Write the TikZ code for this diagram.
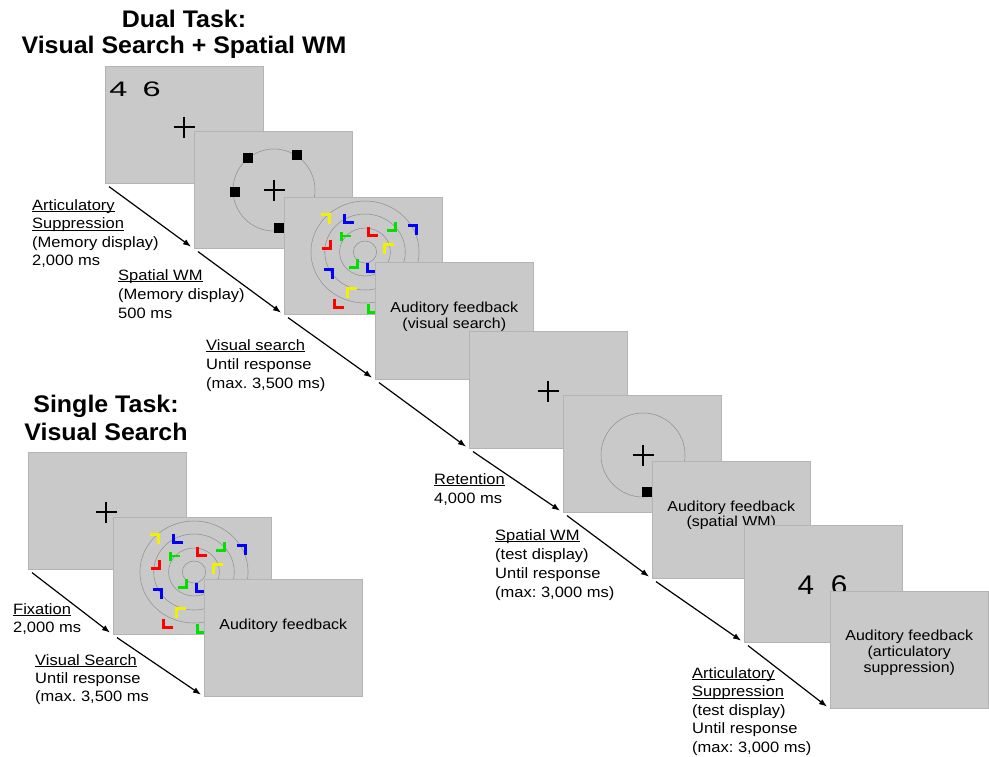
\documentclass[tikz,border=0pt]{standalone}
\usepackage{fontspec}
\setmainfont{Liberation Sans}
\usetikzlibrary{arrows.meta,positioning}
\frenchspacing

\definecolor{panelgray}{RGB}{201,201,201}
\definecolor{paneledge}{RGB}{180,180,180}
\definecolor{ringgray}{RGB}{145,145,145}
\definecolor{vsred}{RGB}{255,0,0}
\definecolor{vsgreen}{RGB}{0,225,0}
\definecolor{vsblue}{RGB}{0,0,255}
\definecolor{vsyellow}{RGB}{240,240,0}

\newcommand{\ul}[1]{\setbox0\hbox{#1}\rlap{\rule[-2.2pt]{\wd0}{0.9pt}}\box0}
% corner marks, centre (#2,#3)
\newcommand{\cBL}[3]{\draw[#1,vsmark] (#2,#3) ++(-4.5,-4.5) -- ++(0,9) -- ++(9,0);}
\newcommand{\cBR}[3]{\draw[#1,vsmark] (#2,#3) ++(4.5,-4.5) -- ++(0,9) -- ++(-9,0);}
\newcommand{\cTR}[3]{\draw[#1,vsmark] (#2,#3) ++(-4.5,-4.5) -- ++(9,0) -- ++(0,9);}
\newcommand{\cTL}[3]{\draw[#1,vsmark] (#2,#3) ++(4.5,-4.5) -- ++(-9,0) -- ++(0,9);}
\newcommand{\cT}[3]{\draw[#1,vsmark] (#2,#3) ++(-4.5,-4.5) -- ++(0,9) ++(0,-4.5) -- ++(9,0);}
\newcommand{\fixcross}[2]{\draw[crossline] (#1-10.5,#2) -- (#1+10.5,#2) (#1,#2-10.5) -- (#1,#2+10.5);}
\newcommand{\sqmark}[2]{\fill (#1-5,#2-5) rectangle ++(10,10);}
% search display, panel coordinates
\newcommand{\searchdisplay}{%
  \foreach \r in {11,24,38,51} \draw[ring] (81,55) ellipse ({1.06*\r} and \r);
  \cTR{vsyellow}{41}{22}
  \cBL{vsblue}{65}{21}
  \cBL{vsred}{89}{34}
  \cBR{vsgreen}{107}{29}
  \cTR{vsblue}{128}{33}
  \cT{vsgreen}{62}{39}
  \cBR{vsred}{42}{47}
  \cTL{vsyellow}{105}{52}
  \cBR{vsgreen}{69}{66}
  \cBL{vsblue}{88}{70}
  \cTR{vsblue}{44}{77}
  \cTL{vsyellow}{68}{96}
  \cBL{vsred}{55}{106}
  \cBL{vsgreen}{89}{111}
}

\begin{document}
\begin{tikzpicture}[x=1pt,y=-1pt,
  screen/.style={draw=paneledge, fill=panelgray, line width=0.6pt, minimum width=158pt, minimum height=117pt, inner sep=0pt, anchor=north west},
  ring/.style={draw=ringgray, line width=0.55pt},
  vsmark/.style={line width=2.6pt},
  crossline/.style={line width=2.9pt},
  lbl/.style={anchor=north west, align=left, inner sep=0pt, xscale=1.1, font=\fontsize{15}{18.5}\selectfont},
  fbtext/.style={align=center, inner sep=0pt, xscale=1.1, font=\fontsize{14.5}{15.8}\selectfont},
  tasktitle/.style={anchor=north, align=center, inner sep=0pt, xscale=1.04, font=\bfseries\fontsize{24}{26}\selectfont},
  arr/.style={-{Latex[length=8pt,width=6pt]}, line width=1.2pt}]
\useasboundingbox (0,0) rectangle (989,756);

% titles
\node[tasktitle] (dualtitle) at (184,10) {Dual Task:\\Visual Search + Spatial WM};
\node[tasktitle, font=\bfseries\fontsize{24}{28}\selectfont] (singletitle) at (106,395) {Single Task:\\Visual Search};

% dual task screens
\node[screen] (p1) at (105,66) {};
\node[inner sep=0pt, anchor=north west, xscale=1.55, font=\fontsize{21}{21}\selectfont] (digA) at (109,82) {4 \hspace{4pt}6};
\begin{scope}[shift={(p1.north west)}]
  \fixcross{79}{61}
\end{scope}

\node[screen] (p2) at (194,131) {};
\begin{scope}[shift={(p2.north west)}]
  \draw[ring] (80,59) circle (41);
  \fixcross{80}{59}
  \sqmark{54}{27} \sqmark{103}{24} \sqmark{41}{61} \sqmark{85}{97}
\end{scope}

\node[screen] (p3) at (284,197) {};
\begin{scope}[shift={(p3.north west)}]
  \searchdisplay
\end{scope}

\node[screen] (p4) at (375,262) {};
\node[fbtext] (fbA) at ([yshift=4pt]p4.center) {Auditory feedback\\(visual search)};

\node[screen] (p5) at (469,331) {};
\begin{scope}[shift={(p5.north west)}]
  \fixcross{79}{60}
\end{scope}

\node[screen] (p6) at (563,395) {};
\begin{scope}[shift={(p6.north west)}]
  \draw[ring] (80,60) circle (42);
  \fixcross{80}{60}
  \sqmark{83.5}{97}
\end{scope}

\node[screen] (p7) at (652,461) {};
\node[fbtext] (fbB) at ([yshift=4.5pt]p7.center) {Auditory feedback\\(spatial WM)};

\node[screen] (p8) at (744,525) {};
\node[inner sep=0pt, anchor=base west, xscale=1.1, font=\fontsize{27}{27}\selectfont] (digB) at (797.5,594) {4 \hspace{7.7pt}6};

\node[screen] (p9) at (830,591) {};
\node[fbtext] (fbC) at ([yshift=-3pt]p9.center) {Auditory feedback\\(articulatory\\suppression)};

% single task screens
\node[screen] (s1) at (28,452) {};
\begin{scope}[shift={(s1.north west)}]
  \fixcross{78}{60}
\end{scope}

\node[screen] (s2) at (113,517) {};
\begin{scope}[shift={(s2.north west)}]
  \searchdisplay
\end{scope}

\node[screen] (s3) at (204,579) {};
\node[fbtext] (fbD) at ([yshift=12pt]s3.center) {Auditory feedback};

% arrows
\foreach \a/\b in {p1/p2,p2/p3,p3/p4,p4/p5,p5/p6,p6/p7,p7/p8,p8/p9,s1/s2,s2/s3}
  \draw[arr] ([shift={(4,3)}]\a.south west) -- ([shift={(-3,-2)}]\b.south west);

% timing labels
\node[lbl] (artmem) at (32,199) {\ul{Articulatory}\\\ul{Suppression}\\(Memory display)\\2,000 ms};
\node[lbl, font=\fontsize{15}{19}\selectfont] (spmem) at (118,269) {\ul{Spatial WM}\\(Memory display)\\500 ms};
\node[lbl, font=\fontsize{15}{19}\selectfont] (vsdual) at (206,339) {\ul{Visual search}\\Until response\\(max. 3,500 ms)};
\node[lbl, font=\fontsize{15}{19}\selectfont] (reten) at (434,473) {\ul{Retention}\\4,000 ms};
\node[lbl, font=\fontsize{15}{19}\selectfont] (sptest) at (495,529) {\ul{Spatial WM}\\(test display)\\Until response\\(max: 3,000 ms)};
\node[lbl] (arttest) at (692,667) {\ul{Articulatory}\\\ul{Suppression}\\(test display)\\Until response\\(max: 3,000 ms)};
\node[lbl] (fixsingle) at (13,603) {\ul{Fixation}\\2,000 ms};
\node[lbl, font=\fontsize{15}{18}\selectfont] (vssingle) at (35,654) {\ul{Visual Search}\\Until response\\(max. 3,500 ms};
\end{tikzpicture}
\end{document}
